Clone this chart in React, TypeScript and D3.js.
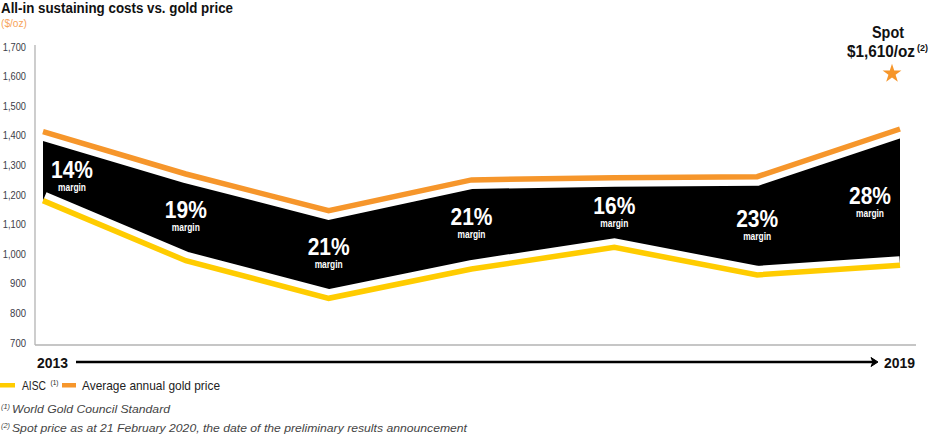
import React from 'react';
import * as d3 from 'd3';

const years = [2013, 2014, 2015, 2016, 2017, 2018, 2019];
const goldPrice = [1414, 1271, 1147, 1251, 1258, 1262, 1423];
const aisc = [1181, 978, 851, 950, 1023, 930, 963];
const margins = ['14%', '19%', '21%', '21%', '16%', '23%', '28%'];
const yTicks = [700, 800, 900, 1000, 1100, 1200, 1300, 1400, 1500, 1600, 1700];
const spotPrice = 1610;

const W = 930;
const H = 435;
const ORANGE = '#f6962b';
const YELLOW = '#ffcc00';
const FONT = '"Liberation Sans", Arial, sans-serif';

// condensed look: squeeze Liberation Sans to the width measured on the reference
const T: React.FC<React.SVGProps<SVGTextElement> & { w: number }> = ({ w, children, ...rest }) => (
  <text textLength={w} lengthAdjust="spacingAndGlyphs" {...rest}>{children}</text>
);

const App: React.FC = () => {
  const x = d3.scalePoint<number>().domain(years).range([43, 900]);
  const y = d3.scaleLinear().domain([700, 1700]).range([343, 47]);

  const rows = years.map((yr, i) => ({ yr, price: goldPrice[i], cost: aisc[i] }));

  const band = d3.area<typeof rows[0]>()
    .x(d => x(d.yr)!)
    .y0(d => y(d.cost))
    .y1(d => y(d.price));
  const priceLine = d3.line<typeof rows[0]>().x(d => x(d.yr)!).y(d => y(d.price));
  const costLine = d3.line<typeof rows[0]>().x(d => x(d.yr)!).y(d => y(d.cost));

  // piecewise scales to find the band middle under each label
  const priceAt = d3.scaleLinear().domain(years.map(d => x(d)!)).range(goldPrice);
  const costAt = d3.scaleLinear().domain(years.map(d => x(d)!)).range(aisc);

  const labelX = (i: number) => {
    const px = x(years[i])!;
    if (i === 0) return px + 29;
    if (i === years.length - 1) return px - 30;
    return px;
  };

  const fmt = d3.format(',');
  const tickWidth = (s: string) => s.replace(/,/g, '').length * 5.3 + (s.includes(',') ? 2 : 0);

  const axisLeft = 35;
  const axisBottom = 345;
  const spotX = x(years[years.length - 1])! - 8;
  const star = d3.symbol().type(d3.symbolStar).size(110)();

  return (
    <svg width={W} height={H} style={{ position: 'absolute', left: 0, top: 0, background: '#fff' }} fontFamily={FONT}>
      {/* title */}
      <T w={232} x={1} y={12.5} fontSize={14.5} fontWeight="bold" fill="#111">All-in sustaining costs vs. gold price</T>
      <T w={26} x={1} y={27} fontSize={11} fill="#f7a35a">($/oz)</T>

      {/* y axis */}
      {yTicks.map(t => {
        const s = fmt(t);
        return (
          <T key={t} w={tickWidth(s)} x={26} y={y(t) + 3.5} fontSize={10.5} fill="#3b3b48" textAnchor="end">{s}</T>
        );
      })}
      <line x1={axisLeft} x2={axisLeft} y1={45} y2={axisBottom} stroke="#b3b3b3" strokeWidth={1.3} />
      <line x1={axisLeft} x2={916} y1={axisBottom} y2={axisBottom} stroke="#b3b3b3" strokeWidth={1.3} />

      {/* margin band */}
      <path d={band(rows)!} fill="#000" />
      <path d={priceLine(rows)!} fill="none" stroke="#fff" strokeWidth={18} strokeLinejoin="miter" />
      <path d={costLine(rows)!} fill="none" stroke="#fff" strokeWidth={18} strokeLinejoin="miter" />
      <path d={priceLine(rows)!} fill="none" stroke={ORANGE} strokeWidth={5.5} strokeLinejoin="miter" />
      <path d={costLine(rows)!} fill="none" stroke={YELLOW} strokeWidth={5.5} strokeLinejoin="miter" />

      {margins.map((m, i) => {
        const lx = labelX(i);
        const mid = (y(priceAt(lx)) + y(costAt(lx))) / 2;
        return (
          <g key={years[i]} fill="#fff" fontWeight="bold" textAnchor="middle">
            <T w={42} x={lx} y={mid + 1} fontSize={24}>{m}</T>
            <T w={28} x={lx} y={mid + 14} fontSize={10}>margin</T>
          </g>
        );
      })}

      {/* spot annotation */}
      <T w={32} x={888} y={38} fontSize={16} fontWeight="bold" fill="#111" textAnchor="middle">Spot</T>
      <T w={68} x={847} y={57} fontSize={16} fontWeight="bold" fill="#111">$1,610/oz</T>
      <T w={11} x={917} y={51} fontSize={8.5} fontWeight="bold" fill="#111">(2)</T>
      <path d={star!} transform={`translate(${spotX},${y(spotPrice)})`} fill={ORANGE} />

      {/* time arrow */}
      <T w={31} x={37} y={368} fontSize={14.5} fontWeight="bold" fill="#111">{String(years[0])}</T>
      <line x1={76} x2={874} y1={362} y2={362} stroke="#000" strokeWidth={2.5} />
      <path d="M871,357.5 L878,362 L871,366.5 L873,362 Z" fill="#000" stroke="#000" strokeWidth={1} />
      <T w={31} x={884} y={368} fontSize={14.5} fontWeight="bold" fill="#111">{String(years[years.length - 1])}</T>

      {/* legend */}
      <rect x={0} y={383} width={15} height={4.5} fill={YELLOW} />
      <T w={24} x={22} y={390} fontSize={13.5} fill="#222">AISC</T>
      <T w={8} x={50.5} y={384.5} fontSize={7} fill="#222">(1)</T>
      <rect x={62} y={383} width={14} height={4.5} fill={ORANGE} />
      <T w={138} x={82} y={390} fontSize={13.5} fill="#222">Average annual gold price</T>

      {/* footnotes */}
      <T w={9} x={1} y={409} fontSize={7} fill="#444" fontStyle="italic">(1)</T>
      <T w={158} x={12} y={413} fontSize={11} fill="#444" fontStyle="italic">World Gold Council Standard</T>
      <T w={9} x={1} y={428} fontSize={7} fill="#444" fontStyle="italic">(2)</T>
      <T w={455} x={12} y={432} fontSize={11} fill="#444" fontStyle="italic">Spot price as at 21 February 2020, the date of the preliminary results announcement</T>
    </svg>
  );
};

export default App;
